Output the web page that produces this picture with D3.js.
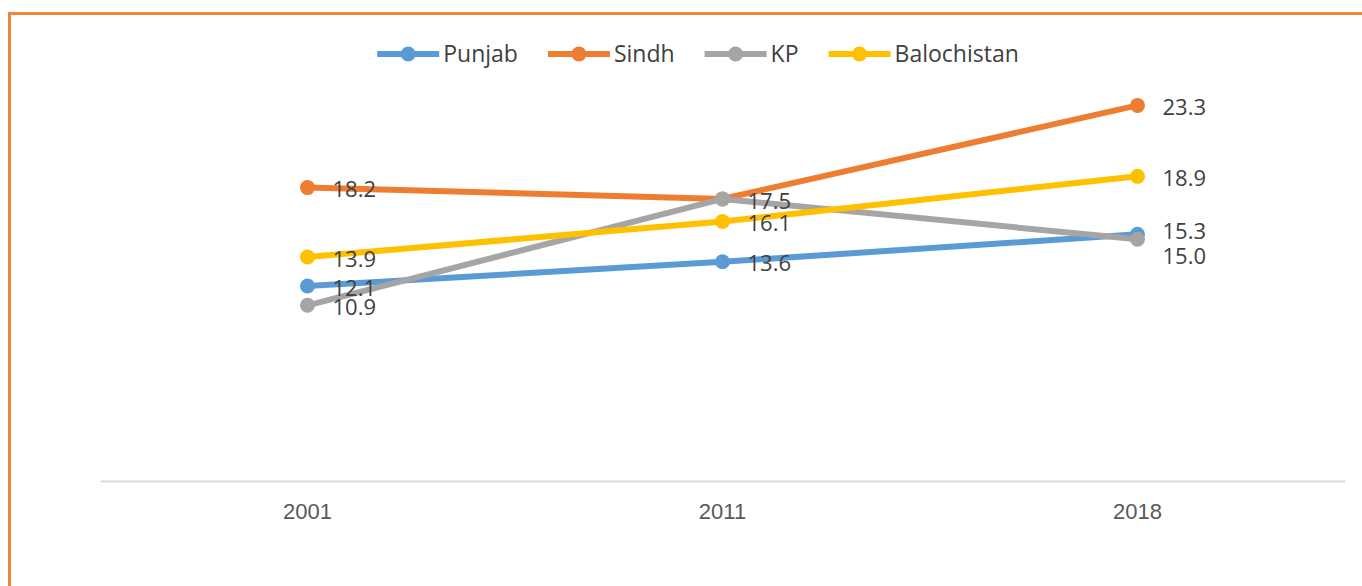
<!DOCTYPE html>
<html lang="en">
<head>
    <meta charset="UTF-8">
    <title>Provincial trend 2001-2018</title>
    <script src="https://d3js.org/d3.v7.min.js"></script>
    <style>
        body {
            margin: 0;
            background-color: #ffffff;
            font-family: "Open Sans", sans-serif;
        }
        svg {
            display: block;
        }
        .tick-label {
            font-size: 22px;
            fill: #595959;
        }
        .point-label {
            font-size: 22px;
            fill: #404040;
        }
        .legend-label {
            font-size: 23px;
            fill: #404040;
        }
    </style>
</head>
<body>
    <div id="chart"></div>
    <script>
        // Data
        const years = ["2001", "2011", "2018"];
        const seriesNames = ["Punjab", "Sindh", "KP", "Balochistan"];
        const punjab = [12.1, 13.6, 15.3];
        const sindh = [18.2, 17.5, 23.3];
        const kp = [10.9, 17.5, 15.0];
        const balochistan = [13.9, 16.1, 18.9];
        const seriesColors = ["#5B9BD5", "#ED7D31", "#A5A5A5", "#FFC000"];

        const series = [punjab, sindh, kp, balochistan].map((values, i) => ({
            name: seriesNames[i],
            color: seriesColors[i],
            values: values
        }));

        // Dimensions
        const W = 1362, H = 586;
        const margin = { top: 78, right: 17, bottom: 105, left: 100 };
        const width = W - margin.left - margin.right;
        const height = H - margin.top - margin.bottom;

        const svg = d3.select("#chart")
            .append("svg")
            .attr("width", W)
            .attr("height", H);

        // Orange frame (runs off the right and bottom edges)
        svg.append("rect")
            .attr("x", 9.5)
            .attr("y", 13.5)
            .attr("width", W + 20)
            .attr("height", H + 20)
            .attr("fill", "none")
            .attr("stroke", "#F18536")
            .attr("stroke-width", 3);

        const g = svg.append("g")
            .attr("transform", `translate(${margin.left},${margin.top})`);

        // Scales
        const x = d3.scaleBand().domain(years).range([0, width]);
        const y = d3.scaleLinear().domain([0, 25]).range([height, 0]);
        const cx = d => x(d) + x.bandwidth() / 2;

        // Category axis
        const xAxis = g.append("g")
            .attr("transform", `translate(0,${height})`)
            .call(d3.axisBottom(x).tickSize(0).tickPadding(22));
        xAxis.select(".domain")
            .attr("stroke", "#D9D9D9")
            .attr("stroke-width", 2);
        xAxis.selectAll(".tick text")
            .attr("class", "tick-label")
            .attr("font-family", null)
            .attr("font-size", null);

        // Lines and markers
        const line = d3.line()
            .x((d, i) => cx(years[i]))
            .y(d => y(d));

        series.forEach(s => {
            g.append("path")
                .datum(s.values)
                .attr("fill", "none")
                .attr("stroke", s.color)
                .attr("stroke-width", 6)
                .attr("stroke-linejoin", "round")
                .attr("d", line);

            g.selectAll(null)
                .data(s.values)
                .enter()
                .append("circle")
                .attr("cx", (d, i) => cx(years[i]))
                .attr("cy", d => y(d))
                .attr("r", 7.5)
                .attr("fill", s.color);
        });

        // Data labels: equal values share one label, near-equal ones are nudged apart
        years.forEach((yr, i) => {
            const seen = new Set();
            const labels = series.map(s => ({ v: s.values[i], ly: y(s.values[i]) + 2 }))
                .filter(d => {
                    const key = d.v.toFixed(1);
                    if (seen.has(key)) return false;
                    seen.add(key);
                    return true;
                })
                .sort((a, b) => a.ly - b.ly);
            for (let k = 1; k < labels.length; k++) {
                if (labels[k].ly - labels[k - 1].ly < 12) {
                    labels[k - 1].ly -= 5;
                    labels[k].ly = labels[k - 1].ly + 25;
                }
            }
            g.selectAll(null)
                .data(labels)
                .enter()
                .append("text")
                .attr("class", "point-label")
                .attr("x", cx(yr) + 25)
                .attr("y", d => d.ly)
                .attr("dy", "0.35em")
                .text(d => d.v.toFixed(1));
        });

        // Legend
        const legend = svg.append("g");
        let offset = 0;
        series.forEach(s => {
            const item = legend.append("g");
            item.append("line")
                .attr("x1", 0).attr("x2", 62)
                .attr("stroke", s.color)
                .attr("stroke-width", 6);
            item.append("circle")
                .attr("cx", 31)
                .attr("r", 7.5)
                .attr("fill", s.color);
            const t = item.append("text")
                .attr("class", "legend-label")
                .attr("x", 66)
                .attr("dy", "0.35em")
                .text(s.name);
            item.attr("transform", `translate(${offset},0)`);
            offset += 66 + t.node().getComputedTextLength() + 30;
        });
        const legendWidth = offset - 30;
        legend.attr("transform", `translate(${698 - legendWidth / 2},54)`);
    </script>
</body>
</html>
